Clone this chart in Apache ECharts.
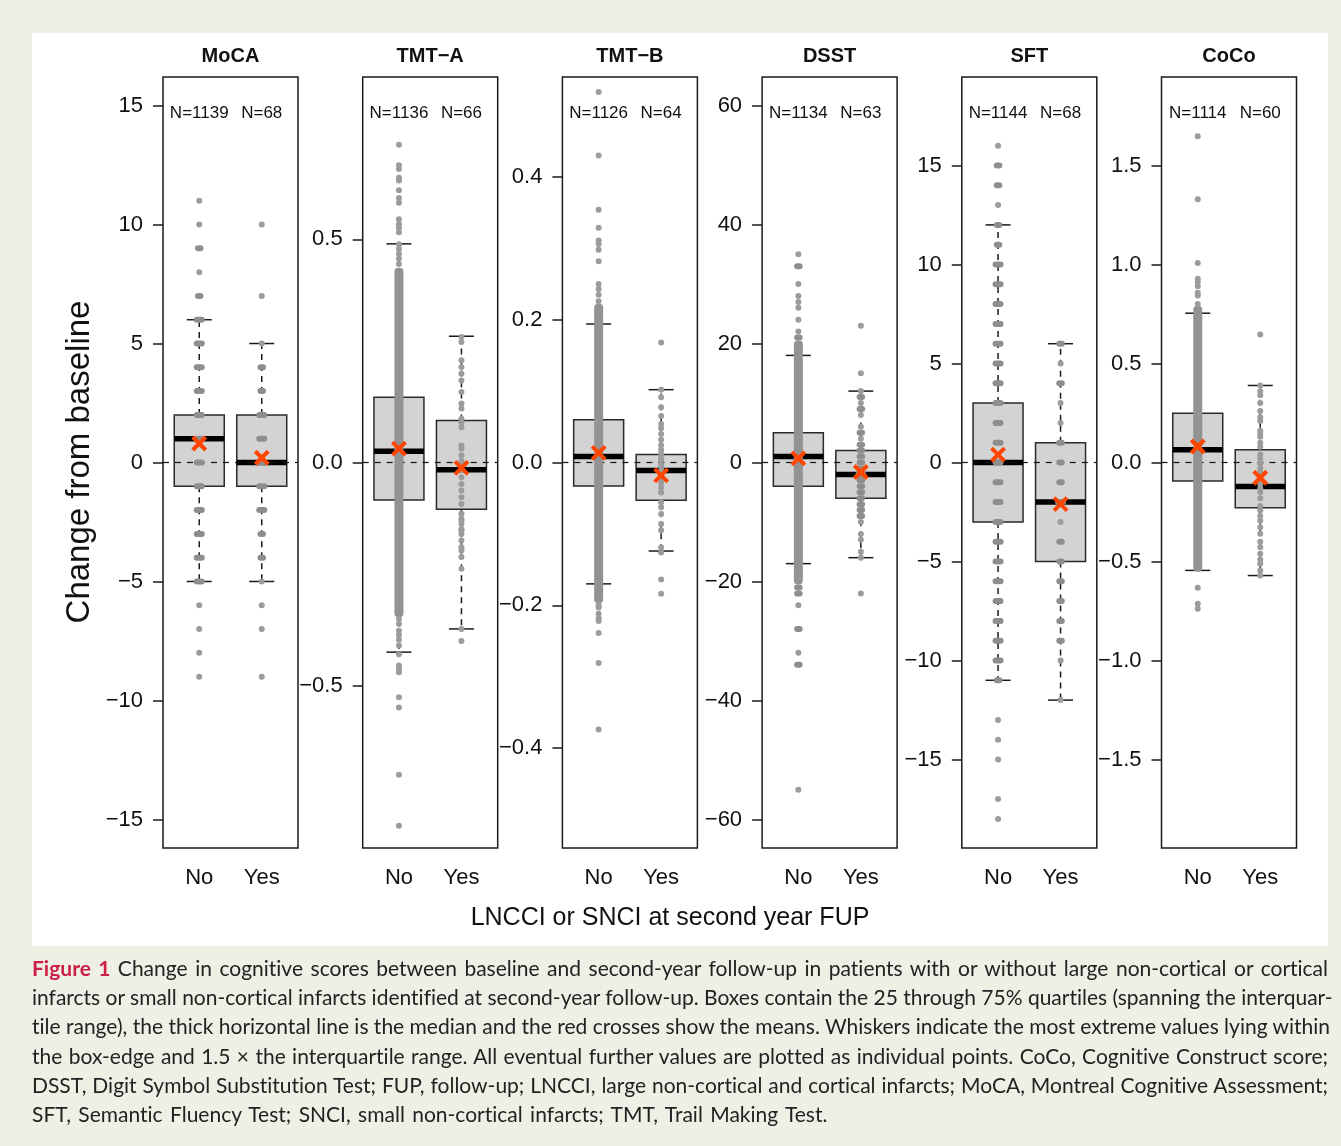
<!DOCTYPE html>
<html>
<head>
<meta charset="utf-8">
<script src="https://cdn.jsdelivr.net/npm/echarts@6/dist/echarts.min.js"></script>
<style>
  html, body { margin:0; padding:0; background:#efefe6; }
  #white { position:absolute; left:32px; top:33px; width:1296px; height:913px; background:#ffffff; }
  #chart { position:absolute; left:0; top:0; width:1341px; height:1146px; }
  #caption { position:absolute; left:32px; top:953px; width:1296px; font-family:Lato, "Open Sans", sans-serif; font-size:21px; line-height:29.2px; color:#222; font-variant-ligatures:none; }
  #caption .ln { white-space:nowrap; text-align:justify; text-align-last:justify; }
  #caption .ln.last { text-align:left; text-align-last:left; word-spacing:2px; }
  #caption .fig { color:#cc1f45; font-weight:bold; }
</style>
</head>
<body>
<div id="white"></div>
<div id="chart"></div>
<div id="caption">
  <div class="ln"><span class="fig">Figure 1</span> Change in cognitive scores between baseline and second-year follow-up in patients with or without large non-cortical or cortical</div>
  <div class="ln">infarcts or small non-cortical infarcts identified at second-year follow-up. Boxes contain the 25 through 75% quartiles (spanning the interquar-</div>
  <div class="ln">tile range), the thick horizontal line is the median and the red crosses show the means. Whiskers indicate the most extreme values lying within</div>
  <div class="ln">the box-edge and 1.5 × the interquartile range. All eventual further values are plotted as individual points. CoCo, Cognitive Construct score;</div>
  <div class="ln">DSST, Digit Symbol Substitution Test; FUP, follow-up; LNCCI, large non-cortical and cortical infarcts; MoCA, Montreal Cognitive Assessment;</div>
  <div class="ln last">SFT, Semantic Fluency Test; SNCI, small non-cortical infarcts; TMT, Trail Making Test.</div>
</div>
<script>
// ---------------- DATA ----------------
const categories = ['No', 'Yes'];
const panelNames = ['MoCA', 'TMT\u2212A', 'TMT\u2212B', 'DSST', 'SFT', 'CoCo'];
const nNo  = [1139, 1136, 1126, 1134, 1144, 1114];
const nYes = [68, 66, 64, 63, 68, 60];
const yLimits = [16.2, 0.864, 0.54, 64.8, 19.47, 1.947];
const yTicks = [
  [-15, -10, -5, 0, 5, 10, 15],
  [-0.5, 0, 0.5],
  [-0.4, -0.2, 0, 0.2, 0.4],
  [-60, -40, -20, 0, 20, 40, 60],
  [-15, -10, -5, 0, 5, 10, 15],
  [-1.5, -1, -0.5, 0, 0.5, 1, 1.5]
];
const tickDecimals = [0, 1, 1, 0, 0, 1];
// [lower whisker, Q1, median, Q3, upper whisker]
const boxNo = [
  [-5, -1, 1, 2, 6],
  [-0.425, -0.084, 0.025, 0.146, 0.490],
  [-0.170, -0.033, 0.0084, 0.060, 0.194],
  [-17, -4, 1, 5, 18],
  [-11, -3, 0, 3, 12],
  [-0.545, -0.094, 0.064, 0.249, 0.754]
];
const boxYes = [
  [-5, -1, 0, 2, 5],
  [-0.373, -0.105, -0.016, 0.094, 0.283],
  [-0.124, -0.053, -0.0112, 0.0112, 0.102],
  [-16, -6, -2, 2, 12],
  [-12, -5, -2, 1, 6],
  [-0.571, -0.229, -0.121, 0.064, 0.389]
];
const meanNo  = [0.8, 0.031, 0.0135, 0.7, 0.4, 0.081];
const meanYes = [0.2, -0.012, -0.018, -1.6, -2.1, -0.077];
// range densely covered by overlapping points [low, high]
const denseNo = [null, [-0.34, 0.43], [-0.193, 0.218], [-20, 20], null, [-0.537, 0.776]];

// individual points: [value, approx count] or value
const mocaNoPts = [[11,1],[10,1],[9,2],[8,1],[7,4],[6,9],[5,18],[4,35],[3,70],[2,110],[1,150],[0,170],[-1,150],[-2,120],[-3,80],[-4,50],[-5,30],[-6,1],[-7,1],[-8,1],[-9,1]];
const mocaYesPts = [[10,1],[7,1],[5,1],[4,3],[3,3],[2,6],[1,9],[0,10],[-1,9],[-2,5],[-3,2],[-4,4],[-5,1],[-6,1],[-7,1],[-9,1]];
const tmtaNoPts = [0.712,0.666,0.658,0.638,0.632,0.61,0.593,0.582,0.545,0.534,0.526,0.516,0.489,0.479,0.468,0.457,0.445,
  -0.351,-0.362,-0.377,-0.386,-0.397,-0.41,-0.43,-0.455,-0.462,-0.47,-0.526,-0.549,-0.7,-0.814];
const tmtaYesPts = [0.281,0.270,0.229,0.214,0.199,0.184,0.158,0.132,0.121,0.098,0.090,0.079,0.038,0.031,0.016,0.004,-0.003,
  -0.018,-0.033,-0.048,-0.063,-0.078,-0.093,-0.115,-0.126,-0.130,-0.137,-0.149,-0.152,-0.160,-0.175,-0.190,-0.197,-0.212,-0.238,-0.373,-0.40];
const tmtbNoPts = [0.519,0.430,0.354,0.329,0.311,0.306,0.298,0.282,0.250,0.243,0.235,0.226,
  -0.2,-0.203,-0.212,-0.218,-0.222,-0.239,-0.281,-0.374];
const tmtbYesPts = [0.168,0.102,0.0915,0.0775,0.065,0.054,0.048,0.040,0.032,0.024,0.018,0.012,0.006,0.003,-0.003,-0.0065,-0.012,-0.016,
  -0.0205,-0.028,-0.035,-0.042,-0.0556,-0.0626,-0.072,-0.086,-0.095,-0.119,-0.126,-0.164,-0.184];
const dsstNoPts = [[35,1],[33,2],[30,1],[28,1],[27,1],[26,1],[24,1],[22,1],[21,2],[-21,2],[-22,2],[-24,1],[-28,2],[-32,1],[-34,2],[-55,1]];
const dsstYesPts = [[23,1],[15,1],[12,1],[11,2],[10,1],[9,2],[8,1],[6,1],[5,2],[4,1],[3,3],[2,3],[1,3],[0,4],[-1,4],[-2,5],[-3,4],[-4,4],
  [-5,3],[-6,3],[-7,2],[-8,3],[-9,2],[-10,1],[-12,1],[-13,1],[-15,1],[-16,1],[-22,1]];
const sftNoPts = [[16,1],[15,2],[14,2],[13,1],[12,3],[11,3],[10,6],[9,8],[8,10],[7,15],[6,20],[5,30],[4,40],[3,60],[2,70],[1,80],[0,90],
  [-1,90],[-2,80],[-3,70],[-4,60],[-5,50],[-6,40],[-7,30],[-8,20],[-9,15],[-10,8],[-11,4],[-13,1],[-14,1],[-15,1],[-17,1],[-18,1]];
const sftYesPts = [[6,2],[5,1],[4,2],[3,1],[2,1],[1,3],[0,3],[-1,3],[-2,5],[-3,1],[-4,4],[-5,4],[-6,3],[-7,3],[-8,3],[-9,2],[-10,1],[-12,1]];
const cocoNoPts = [1.648,1.33,1.008,0.928,0.911,0.89,0.857,0.843,0.80,-0.633,-0.714,-0.739];
const cocoYesPts = [0.646,0.389,0.36,0.34,0.30,0.26,0.229,0.21,0.16,0.145,0.13,0.10,0.08,0.04,0.02,-0.005,-0.03,-0.05,-0.08,-0.11,
  -0.13,-0.15,-0.18,-0.22,-0.242,-0.27,-0.293,-0.327,-0.36,-0.40,-0.428,-0.461,-0.49,-0.512,-0.545,-0.571];

const ptsNo  = [mocaNoPts, tmtaNoPts, tmtbNoPts, dsstNoPts, sftNoPts, cocoNoPts];
const ptsYes = [mocaYesPts, tmtaYesPts, tmtbYesPts, dsstYesPts, sftYesPts, cocoYesPts];

// ---------------- LAYOUT ----------------
const FONT = '"Liberation Sans", Arial, sans-serif';
const gridLefts = [163, 362.7, 562.4, 762.1, 961.8, 1161.5];
const gridTop = 77, gridW = 135, gridH = 771;
const XMIN = 0.42, XMAX = 2.58;
const INK = '#1a1a1a';

function fmtTick(dec) {
  return function (v) {
    const s = Math.abs(v).toFixed(dec);
    return v < 0 ? '\u2212' + s : s;
  };
}

function renderBox(params, api) {
  const x = api.value(0);
  const lo = api.value(1), q1 = api.value(2), md = api.value(3), q3 = api.value(4), hi = api.value(5);
  const cx = api.coord([x, md])[0];
  const yLo = api.coord([x, lo])[1], yQ1 = api.coord([x, q1])[1], yMd = api.coord([x, md])[1];
  const yQ3 = api.coord([x, q3])[1], yHi = api.coord([x, hi])[1];
  const hw = api.size([0.4, 0])[0];
  const cw = api.size([0.2, 0])[0];
  const dash = { stroke: INK, lineWidth: 1.5, lineDash: [6, 5] };
  const solid = { stroke: INK, lineWidth: 1.5 };
  return {
    type: 'group',
    children: [
      { type: 'line', shape: { x1: cx, y1: yQ3, x2: cx, y2: yHi }, style: dash },
      { type: 'line', shape: { x1: cx, y1: yQ1, x2: cx, y2: yLo }, style: dash },
      { type: 'line', shape: { x1: cx - cw, y1: yHi, x2: cx + cw, y2: yHi }, style: solid },
      { type: 'line', shape: { x1: cx - cw, y1: yLo, x2: cx + cw, y2: yLo }, style: solid },
      { type: 'rect', shape: { x: cx - hw, y: yQ3, width: 2 * hw, height: yQ1 - yQ3 }, style: { fill: '#d3d3d3', stroke: '#2a2a2a', lineWidth: 1.5 } },
      { type: 'line', shape: { x1: cx - hw, y1: yMd, x2: cx + hw, y2: yMd }, style: { stroke: '#000', lineWidth: 5.5 } }
    ]
  };
}

function renderZero(params, api) {
  const p1 = api.coord([XMIN, 0]);
  const p2 = api.coord([XMAX, 0]);
  return { type: 'line', shape: { x1: p1[0], y1: p1[1], x2: p2[0], y2: p2[1] }, style: { stroke: '#111', lineWidth: 1.2, lineDash: [6, 6] } };
}

function renderBand(params, api) {
  const x = api.value(0);
  const pLo = api.coord([x, api.value(1)]);
  const pHi = api.coord([x, api.value(2)]);
  const w = 9;
  return { type: 'rect', shape: { x: pLo[0] - w / 2, y: pHi[1] - 3, width: w, height: pLo[1] - pHi[1] + 6, r: 4 }, style: { fill: '#939393' } };
}

function renderPoint(params, api) {
  const p = api.coord([api.value(0), api.value(1)]);
  const c = api.value(2);
  const w = c >= 5 ? 11 : (c >= 2 ? 8.5 : 6);
  return { type: 'rect', shape: { x: p[0] - w / 2, y: p[1] - 3, width: w, height: 6, r: 3 }, style: { fill: c >= 2 ? '#8e8e8e' : '#9c9c9c' } };
}

function renderMean(params, api) {
  const p = api.coord([api.value(0), api.value(1)]);
  const s = 6.5;
  const st = { stroke: '#ff4500', lineWidth: 4 };
  return {
    type: 'group',
    children: [
      { type: 'line', shape: { x1: p[0] - s, y1: p[1] - s, x2: p[0] + s, y2: p[1] + s }, style: st },
      { type: 'line', shape: { x1: p[0] - s, y1: p[1] + s, x2: p[0] + s, y2: p[1] - s }, style: st }
    ]
  };
}

function makeNLabel(lim) {
  return function (params, api) {
    const p = api.coord([api.value(0), lim]);
    return { type: 'text', x: p[0], y: p[1] + 36, style: { text: 'N=' + api.value(1), align: 'center', verticalAlign: 'middle', fontSize: 17, fontFamily: FONT, fill: '#111' } };
  };
}

const grids = [], xAxes = [], yAxes = [], series = [], graphics = [];
for (let i = 0; i < 6; i++) {
  grids.push({ left: gridLefts[i], top: gridTop, width: gridW, height: gridH, show: true, borderColor: INK, borderWidth: 1.5, backgroundColor: 'transparent' });
  xAxes.push({
    gridIndex: i, type: 'value', min: XMIN, max: XMAX,
    splitLine: { show: false }, axisLine: { show: false },
    axisTick: { show: true, customValues: [1, 2], length: 10, lineStyle: { color: INK, width: 1.5 } },
    axisLabel: { customValues: [1, 2], formatter: v => categories[Math.round(v) - 1], fontSize: 22, color: '#111', margin: 19, fontFamily: FONT }
  });
  yAxes.push({
    gridIndex: i, type: 'value', min: -yLimits[i], max: yLimits[i],
    splitLine: { show: false }, axisLine: { show: false },
    axisTick: { show: true, customValues: yTicks[i], length: 10, lineStyle: { color: INK, width: 1.5 } },
    axisLabel: { customValues: yTicks[i], formatter: fmtTick(tickDecimals[i]), fontSize: 22, color: '#111', margin: 20, fontFamily: FONT }
  });
  const common = { type: 'custom', xAxisIndex: i, yAxisIndex: i, silent: true, animation: false };
  series.push(Object.assign({}, common, { z: 2, renderItem: renderBox, data: [[1].concat(boxNo[i]), [2].concat(boxYes[i])] }));
  series.push(Object.assign({}, common, { z: 3, renderItem: renderZero, data: [[XMIN, 0]] }));
  if (denseNo[i]) {
    series.push(Object.assign({}, common, { z: 4, renderItem: renderBand, data: [[1, denseNo[i][0], denseNo[i][1]]] }));
  }
  const toItem = (x) => (p) => Array.isArray(p) ? [x, p[0], p[1]] : [x, p, 1];
  const pts = ptsNo[i].map(toItem(1)).concat(ptsYes[i].map(toItem(2)));
  series.push(Object.assign({}, common, { z: 5, renderItem: renderPoint, data: pts }));
  series.push(Object.assign({}, common, { z: 6, renderItem: renderMean, data: [[1, meanNo[i]], [2, meanYes[i]]] }));
  series.push(Object.assign({}, common, { z: 7, renderItem: makeNLabel(yLimits[i]), data: [[1, nNo[i]], [2, nYes[i]]] }));
  graphics.push({ type: 'text', x: gridLefts[i] + gridW / 2, y: 56.5, style: { text: panelNames[i], align: 'center', verticalAlign: 'middle', fontSize: 20, fontWeight: 'bold', fontFamily: FONT, fill: '#111' } });
}
graphics.push({ type: 'text', x: 80, y: 462, rotation: Math.PI / 2, style: { text: 'Change from baseline', align: 'center', verticalAlign: 'middle', fontSize: 33, fontFamily: FONT, fill: '#111' } });
graphics.push({ type: 'text', x: 670, y: 918, style: { text: 'LNCCI or SNCI at second year FUP', align: 'center', verticalAlign: 'middle', fontSize: 25, fontFamily: FONT, fill: '#111' } });

const chart = echarts.init(document.getElementById('chart'), null, { renderer: 'canvas' });
chart.setOption({
  backgroundColor: 'transparent',
  animation: false,
  grid: grids,
  xAxis: xAxes,
  yAxis: yAxes,
  series: series,
  graphic: graphics
});
</script>
</body>
</html>
